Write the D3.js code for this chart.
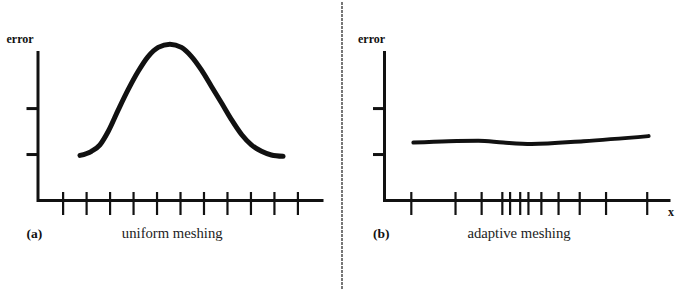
<!DOCTYPE html>
<html>
<head>
<meta charset="utf-8">
<script src="https://cdn.jsdelivr.net/npm/d3@7"></script>
<style>
  body { margin: 0; background: #fff; }
</style>
</head>
<body>
<svg id="chart" width="675" height="295"></svg>
<script>
// mesh node positions (x units)
const uniformTicks = [1, 2, 3, 4, 5, 6, 7, 8, 9, 10, 11];
const adaptiveTicks = [1.07, 2.95, 4.06, 4.94, 5.27, 5.7, 6.05, 6.6, 7.33, 8.23, 9.35, 11.1];
// error ticks on the y axis
const errorTicks = [1, 2];
// error curve, uniform meshing
const uniformX = [1.74, 2.23, 2.59, 2.94, 3.37, 3.79, 4.22, 4.64, 5.07, 5.57, 6.06, 6.49, 6.91, 7.34, 7.77, 8.19, 8.63, 9.04, 9.47, 9.89, 10.39];
const uniformY = [0.97, 1.06, 1.2, 1.49, 1.96, 2.4, 2.8, 3.12, 3.32, 3.39, 3.32, 3.12, 2.83, 2.47, 2.11, 1.75, 1.42, 1.2, 1.06, 0.98, 0.95];
// error curve, adaptive meshing
const adaptiveX = [1.18, 2.67, 3.94, 5.0, 6.2, 8.41, 11.18];
const adaptiveY = [1.25, 1.28, 1.29, 1.25, 1.22, 1.28, 1.39];
// labels
const panelTags = ["(a)", "(b)"];
const panelTitles = ["uniform meshing", "adaptive meshing"];

const serif = "'Liberation Serif', 'DejaVu Serif', serif";
const svg = d3.select("#chart");

const y = d3.scaleLinear().domain([0, 3.22]).range([200, 52]);

const panels = [
  { left: 37.5, right: 323, ticks: uniformTicks, xs: uniformX, ys: uniformY, width: 5, tag: panelTags[0], title: panelTitles[0] },
  { left: 384, right: 670, ticks: adaptiveTicks, xs: adaptiveX, ys: adaptiveY, width: 4, tag: panelTags[1], title: panelTitles[1] }
];

panels.forEach((p, k) => {
  const x = d3.scaleLinear().domain([-0.07, 12.09]).range([p.left, p.right]);
  const g = svg.append("g");

  // axe des x avec les noeuds du maillage
  const gx = g.append("g")
    .attr("transform", `translate(0, ${y(0)})`)
    .call(d3.axisBottom(x).tickValues(p.ticks).tickSizeInner(15).tickSizeOuter(0).tickFormat(""));
  gx.select(".domain").attr("stroke", "#111").attr("stroke-width", 3);
  gx.selectAll(".tick line").attr("y1", -8).attr("stroke", "#111").attr("stroke-width", 2.2);

  // axe des y
  const gy = g.append("g")
    .attr("transform", `translate(${p.left}, 0)`)
    .call(d3.axisLeft(y).tickValues(errorTicks).tickSizeInner(11).tickSizeOuter(0).tickFormat(""));
  gy.select(".domain").attr("stroke", "#111").attr("stroke-width", 3).attr("stroke-linecap", "square");
  gy.selectAll(".tick line").attr("stroke", "#111").attr("stroke-width", 3);

  // courbe d'erreur
  const pts = p.xs.map((v, i) => [x(v), y(p.ys[i])]);
  g.append("path")
    .attr("d", d3.line().curve(d3.curveMonotoneX)(pts))
    .attr("fill", "none")
    .attr("stroke", "#111")
    .attr("stroke-width", p.width)
    .attr("stroke-linecap", "round");

  g.append("text")
    .attr("x", p.left - 31 + k * 5)
    .attr("y", 43)
    .attr("font-family", serif)
    .attr("font-size", 12)
    .attr("font-weight", "bold")
    .attr("fill", "#111")
    .text("error");

  g.append("text")
    .attr("x", p.left - 11)
    .attr("y", 238)
    .attr("font-family", serif)
    .attr("font-size", 13.5)
    .attr("font-weight", "bold")
    .attr("fill", "#111")
    .text(p.tag);

  g.append("text")
    .attr("x", (p.left + p.right) / 2 - 8)
    .attr("y", 238)
    .attr("text-anchor", "middle")
    .attr("font-family", serif)
    .attr("font-size", 14.7)
    .attr("fill", "#222")
    .text(p.title);
});

svg.append("text")
  .attr("x", 668)
  .attr("y", 216)
  .attr("font-family", serif)
  .attr("font-size", 12)
  .attr("font-weight", "bold")
  .attr("fill", "#111")
  .text("x");

// séparateur pointillé
svg.append("line")
  .attr("x1", 342).attr("x2", 342)
  .attr("y1", 2).attr("y2", 289)
  .attr("stroke", "#555")
  .attr("stroke-width", 1.6)
  .attr("stroke-dasharray", "3,1");
</script>
</body>
</html>
